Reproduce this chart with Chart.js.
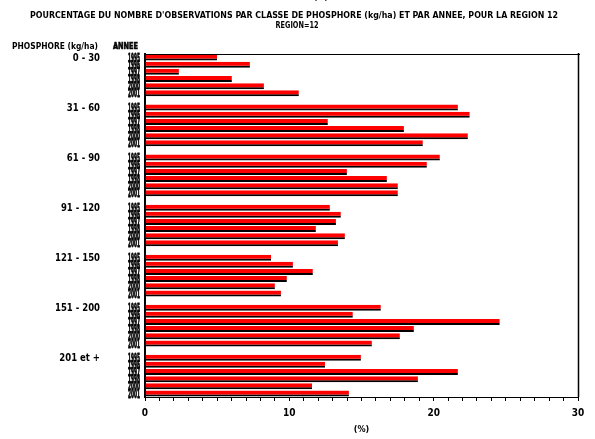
<!DOCTYPE html>
<html>
<head>
<meta charset="utf-8">
<script src="https://cdn.jsdelivr.net/npm/chart.js@4"></script>
<style>
  html, body { margin: 0; padding: 0; background: #fff; }
  canvas { display: block; }
</style>
</head>
<body>
<canvas id="chart" width="595" height="439"></canvas>
<script>
// ── Data ──────────────────────────────────────────────────
const CLASSES = ['0 - 30', '31 - 60', '61 - 90', '91 - 120', '121 - 150', '151 - 200', '201 et +'];
const YEARS   = ['1995', '1996', '1997', '1998', '2000', '2001'];

// percentages per class, one value per year
const P_0_30    = [4.99, 7.27, 2.35, 6.02, 8.24, 10.66];
const P_31_60   = [21.68, 22.50, 12.67, 17.94, 22.37, 19.25];
const P_61_90   = [20.43, 19.53, 13.99, 16.76, 17.52, 17.52];
const P_91_120  = [12.81, 13.57, 13.23, 11.84, 13.85, 13.37];
const P_121_150 = [8.73, 10.25, 11.63, 9.83, 9.00, 9.42];
const P_151_200 = [16.34, 14.40, 24.58, 18.63, 17.66, 15.72];
const P_201     = [14.96, 12.47, 21.68, 18.91, 11.57, 14.13];

const X_TICKS = [0, 10, 20, 30];

const TITLE    = "POURCENTAGE DU NOMBRE D'OBSERVATIONS PAR CLASSE DE PHOSPHORE (kg/ha) ET PAR ANNEE, POUR LA REGION 12";
const SUBTITLE = 'REGION=12';

// ── Build category rows (one empty row between classes) ──
const groups = [P_0_30, P_31_60, P_61_90, P_91_120, P_121_150, P_151_200, P_201];
const rowLabels = [], rowValues = [], groupStart = [];
groups.forEach((vals, g) => {
  if (g > 0) { rowLabels.push(''); rowValues.push(null); }
  groupStart.push(rowLabels.length);
  vals.forEach((v, i) => { rowLabels.push(YEARS[i]); rowValues.push(v); });
});

const FONT = "'Liberation Sans Narrow','DejaVu Sans Condensed','Liberation Sans',sans-serif";

// draw text squeezed horizontally by sx (optionally thickened)
function squeeze(ctx, text, x, y, sx, align, heavy) {
  ctx.save();
  ctx.translate(x, y);
  ctx.scale(sx, 1);
  ctx.textAlign = align || 'left';
  if (heavy) { ctx.lineWidth = heavy; ctx.strokeText(text, 0, 0); }
  ctx.fillText(text, 0, 0);
  ctx.restore();
}
function fitWidth(ctx, text, w) { return w / ctx.measureText(text).width; }

// ── Texts + frame ─────────────────────────────────────────
const sasText = {
  id: 'sasText',
  afterDraw(chart) {
    const { ctx, chartArea: a, scales: { y } } = chart;
    ctx.save();
    ctx.fillStyle = '#000';
    ctx.strokeStyle = '#000';
    ctx.textBaseline = 'middle';

    // frame top / right
    ctx.lineWidth = 1;
    ctx.beginPath();
    ctx.moveTo(a.left, a.top + 0.5); ctx.lineTo(a.right + 2, a.top + 0.5);
    ctx.stroke();
    ctx.lineWidth = 1.5;
    ctx.beginPath();
    ctx.moveTo(a.right + 0.5, a.top - 1); ctx.lineTo(a.right + 0.5, a.bottom);
    ctx.stroke();

    // titles
    ctx.font = 'bold 8px ' + FONT;
    squeeze(ctx, '(%)', 321, -2, 1, 'center');
    ctx.font = 'bold 9px ' + FONT;
    squeeze(ctx, TITLE, 294, 16, fitWidth(ctx, TITLE, 528), 'center');
    squeeze(ctx, SUBTITLE, 297, 26, fitWidth(ctx, SUBTITLE, 43), 'center');

    // headers
    squeeze(ctx, 'PHOSPHORE (kg/ha)', 12, 47, fitWidth(ctx, 'PHOSPHORE (kg/ha)', 86), 'left');
    squeeze(ctx, 'ANNEE', 113, 47, fitWidth(ctx, 'ANNEE', 25), 'left', 0.6);

    // class labels
    ctx.font = 'bold 10px ' + FONT;
    const sxc = fitWidth(ctx, '121 - 150', 45);
    CLASSES.forEach((c, g) => {
      squeeze(ctx, c, 100, y.getPixelForValue(groupStart[g]) + 1, sxc, 'right');
    });

    // year labels (tall, overlapping)
    ctx.font = 'bold 12px ' + FONT;
    const sxy = fitWidth(ctx, '2000', 12);
    rowLabels.forEach((lab, i) => {
      if (!lab) return;
      squeeze(ctx, lab, 140, y.getPixelForValue(i) + 1, sxy, 'right', 0.8);
    });
    ctx.restore();
  }
};

// ── Chart ─────────────────────────────────────────────────
new Chart(document.getElementById('chart'), {
  type: 'bar',
  data: {
    labels: rowLabels,
    datasets: [{
      data: rowValues,
      backgroundColor: '#ff0000',
      borderColor: '#000000',
      borderWidth: { top: 0, right: 0, bottom: 2, left: 0 },
      borderSkipped: false,
      barThickness: 6,
      inflateAmount: 0,
    }]
  },
  options: {
    indexAxis: 'y',
    responsive: false,
    animation: false,
    layout: { padding: { top: 54, right: 17, left: 0, bottom: 0 } },
    plugins: { legend: { display: false }, tooltip: { enabled: false } },
    scales: {
      y: {
        type: 'category',
        ticks: { display: false },
        grid: { display: false },
        border: { display: true, color: '#000', width: 2 },
        afterFit: s => { s.width = 145; }
      },
      x: {
        min: 0, max: 30,
        ticks: {
          stepSize: 1, autoSkip: false, maxRotation: 0, color: '#000', padding: 6,
          font: { family: FONT, size: 10, weight: 'bold' },
          callback: v => X_TICKS.includes(v) ? String(v) : ''
        },
        grid: { drawOnChartArea: false, tickLength: 4, color: '#000' },
        border: { display: true, color: '#000', width: 1 },
        title: {
          display: true, text: '(%)', color: '#000',
          font: { family: FONT, size: 9, weight: 'bold' },
          padding: { top: 10, bottom: 4 }
        },
        afterFit: s => { s.height = 42; }
      }
    }
  },
  plugins: [sasText]
});
</script>
</body>
</html>
